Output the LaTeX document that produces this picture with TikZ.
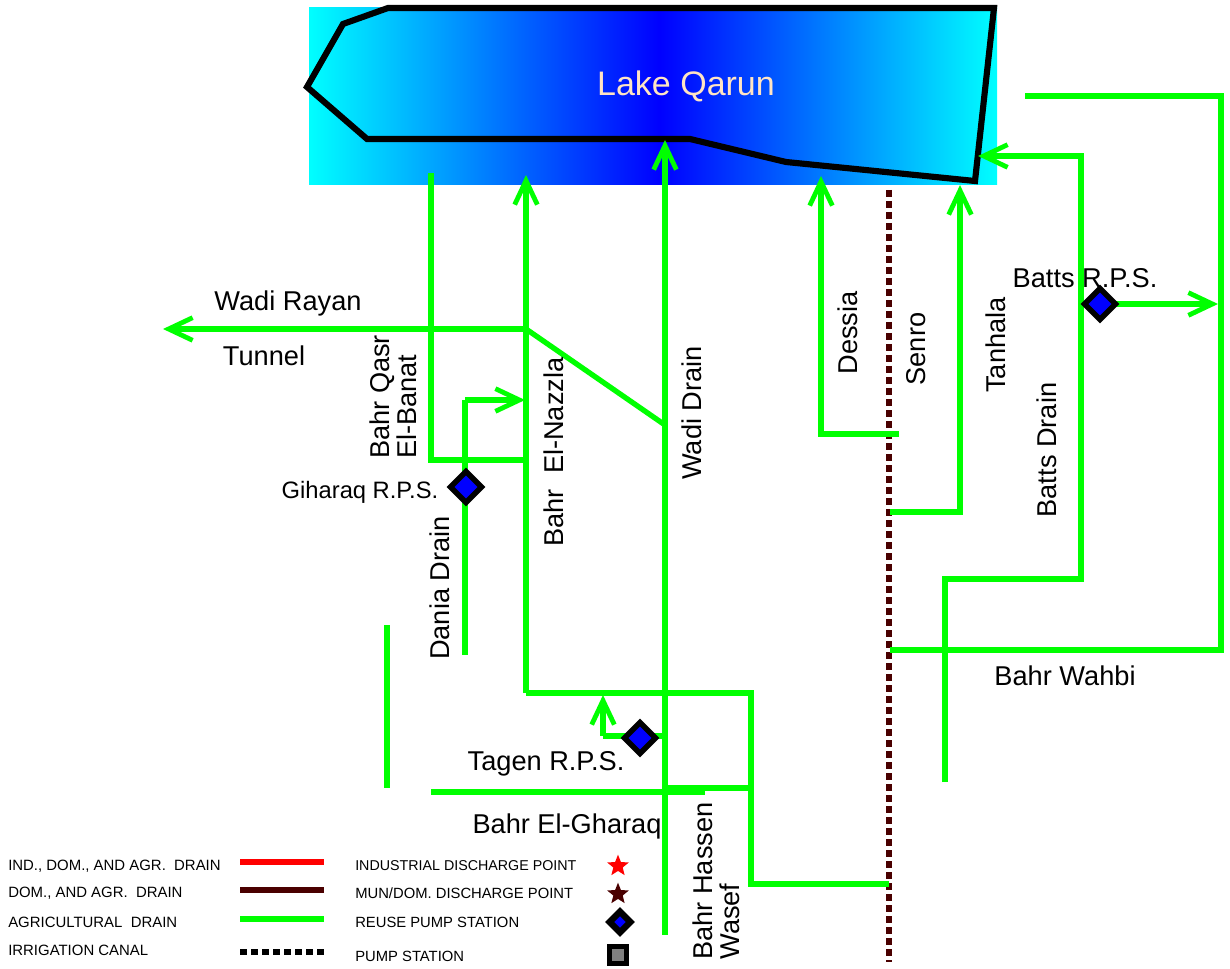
\documentclass[tikz,border=0pt]{standalone}
\usepackage{fontspec}
\setmainfont{Liberation Sans}
\usetikzlibrary{shapes.geometric,arrows.meta}
\definecolor{drain}{HTML}{00FF00}
\definecolor{canal}{HTML}{4A0000}
\definecolor{laketext}{HTML}{FFE4C4}

\begin{document}
\begin{tikzpicture}[x=0.75pt, y=-0.75pt,
  drn/.style={drain, line width=4pt, line join=miter},
  arr/.style={drn, -{Straight Barb[sharp, length=18pt, width=17pt, line width=3.6pt]}},
  lbl/.style={font=\fontsize{#1}{#1}\selectfont, inner sep=0pt, align=center},
  lbl/.default=20.4,
  vlbl/.style={lbl=20.4, rotate=90, align=left},
  leg/.style={lbl=#1, anchor=west},
  leg/.default=11.1,
  rps/.style={diamond, draw=black, line width=4.2pt, fill=blue, minimum size=25pt, inner sep=0pt},
  mark/.style={star, star points=5, star point ratio=2.3, fill=#1, inner sep=0pt, minimum size=17pt}
]
  \useasboundingbox (0,0) rectangle (1230,969);

  % Lake
  \fill[left color=cyan, right color=blue] (309,8) rectangle (660,185);
  \fill[left color=blue, right color=cyan] (660,8) rectangle (997,185);
  \draw[line width=4.6pt, line join=miter] (388,8) -- (343,24) -- (307,87) -- (367,139) -- (690,139) -- (786,162) -- (975,181) -- (994,8) -- cycle;
  \node[lbl=25.5, laketext] (lake) at (686,86) {Lake Qarun};

  % Canal
  \coordinate (cantop) at (889,190);
  \coordinate (canbot) at (889,962);
  \draw[canal, line width=4.5pt, dash pattern=on 5.25pt off 3pt] (cantop) -- (canbot);

  % Junctions
  \coordinate (giharaqpt) at (466,487);
  \coordinate (tagenpt) at (640,738);
  \coordinate (battspt) at (1100,304);
  \coordinate (nazjoin) at (526,460);
  \coordinate (nazsouth) at (526,693);
  \coordinate (nazmouth) at (526,175);
  \coordinate (rayjoin) at (526,329);
  \coordinate (rayend) at (163,329);
  \coordinate (wadijoin) at (665,425);
  \coordinate (wadimouth) at (665,140);
  \coordinate (wadisouth) at (665,935);
  \coordinate (hassen) at (751,693);
  \coordinate (hassenend) at (889,884);

  % West side drains
  \draw[drn] (431,173) |- (nazjoin);
  \draw[arr] (nazsouth) -- (nazmouth);
  \draw[arr] (wadisouth) -- (wadimouth);
  \draw[arr] (rayjoin) -- (rayend);
  \draw[drn] (wadijoin) -- (rayjoin);
  \coordinate (daniatop) at (465,400);
  \coordinate (daniaend) at (525,400);
  \draw[drn] (465,655) -- (daniatop);
  \draw[arr] (daniatop) -- (daniaend);
  \draw[drn] (387,625) -- (387,788);

  % South drains
  \draw[drn] (nazsouth) -- (hassen) |- (hassenend);
  \coordinate (gharaqw) at (431,792);
  \coordinate (gharaqe) at (705,792);
  \draw[drn] (gharaqw) -- (gharaqe);
  \draw[drn] (665,788) -- (751,788);
  \coordinate (tagenbend) at (603,736);
  \draw[drn] (665,736) -- (tagenbend);
  \draw[arr] (tagenbend) -- (603,695);

  % East side drains
  \draw[arr] (899,434) -| (821,176);
  \draw[arr] (890,512) -| (960,185);
  \coordinate (battsbase) at (1081,579);
  \draw[arr] (945,782) |- (battsbase) |- (978,156);
  \draw[arr] (battspt) -- (1218,304);
  \draw[drn] (890,650) -| (1221,96) -- (1025,96);

  % Stations
  \node[rps] (giharaq) at (giharaqpt) {};
  \node[rps] (tagen) at (tagenpt) {};
  \node[rps] (batts) at (battspt) {};

  % Labels
  \node[lbl] (rayan) at (288,303) {Wadi Rayan};
  \node[lbl] (tunnel) at (264,356) {Tunnel};
  \node[vlbl] (qasr) at (393,397) {Bahr Qasr\\El-Banat};
  \node[vlbl] (nazzla) at (554,452) {Bahr\ \ El-Nazzla};
  \node[vlbl] (wadi) at (692,413) {Wadi Drain};
  \node[vlbl] (dessia) at (848,333) {Dessia};
  \node[vlbl] (senro) at (916,349) {Senro};
  \node[vlbl] (tanhala) at (996,345) {Tanhala};
  \node[vlbl] (battsd) at (1047,450) {Batts Drain};
  \node[lbl] (battsl) at (1085,278) {Batts R.P.S.};
  \node[lbl=17.8] (giharaql) at (360,492) {Giharaq R.P.S.};
  \node[vlbl] (dania) at (440,588) {Dania Drain};
  \node[lbl] (tagenl) at (546,764) {Tagen R.P.S.};
  \node[lbl] (gharaq) at (567,826) {Bahr El-Gharaq};
  \node[vlbl] (hassenl) at (716,881) {Bahr Hassen\\Wasef};
  \node[lbl] (wahbi) at (1065,676) {Bahr Wahbi};

  % Legend
  \node[leg=11.2] (l1) at (8,866) {IND., DOM., AND AGR.\ \ DRAIN};
  \node[leg=11.2] (l2) at (8,893) {DOM., AND AGR.\ \ DRAIN};
  \node[leg=11.2] (l3) at (8,922) {AGRICULTURAL\ \ DRAIN};
  \node[leg=11.2] (l4) at (8,950) {IRRIGATION CANAL};
  \draw[red, line width=4.3pt] (240,862) -- (324,862);
  \draw[canal, line width=4.3pt] (240,890) -- (324,890);
  \draw[drain, line width=4.3pt] (240,919) -- (324,919);
  \draw[line width=4.3pt, dash pattern=on 5.25pt off 3pt] (240,952) -- (324,952);
  \node[leg=10.7] (r1) at (355,866) {INDUSTRIAL DISCHARGE POINT};
  \node[leg] (r2) at (355,893) {MUN/DOM. DISCHARGE POINT};
  \node[leg] (r3) at (355,922) {REUSE PUMP STATION};
  \node[leg] (r4) at (355,956) {PUMP STATION};
  \node[mark=red] (s1) at (618,866) {};
  \node[mark=canal] (s2) at (618,894) {};
  \node[diamond, draw=black, line width=4.8pt, fill=blue, minimum size=17.5pt, inner sep=0pt] (s3) at (620,922) {};
  \node[rectangle, draw=black, line width=4pt, fill=gray, minimum width=12.5pt, minimum height=13pt, inner sep=0pt] (s4) at (618,955) {};
\end{tikzpicture}
\end{document}
